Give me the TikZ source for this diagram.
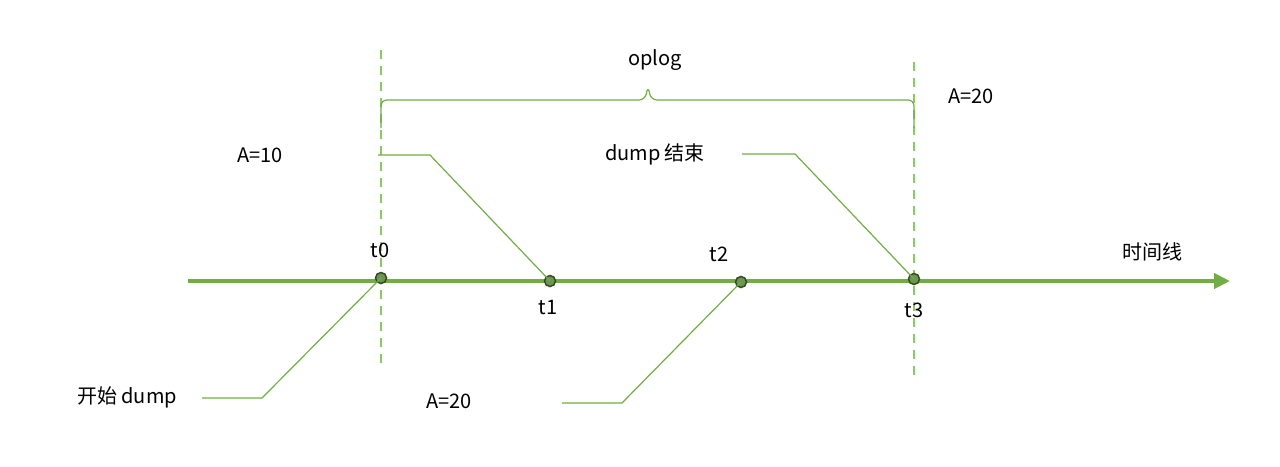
\documentclass[tikz,border=0pt]{standalone}
\usepackage{fontspec}
\setmainfont{Noto Sans CJK SC}
\usetikzlibrary{arrows.meta}
\definecolor{gline}{RGB}{112,173,71}
\definecolor{lgreen}{RGB}{140,200,100}
\definecolor{dgreen}{RGB}{84,130,53}
\begin{document}
\begin{tikzpicture}[x=1pt,y=-1pt,
  lbl/.style={font=\fontsize{20}{24}\selectfont,text=black,inner sep=0},
  dot/.style={circle,fill=dgreen!85,draw=dgreen!60!black,line width=1.5pt,minimum size=11pt,inner sep=0},
  call/.style={gline,line width=1.2pt},
  vdash/.style={lgreen,line width=2pt,dash pattern=on 9pt off 7pt}]
\useasboundingbox (0,0) rectangle (1280,466);
\coordinate (s) at (188,281);
\coordinate (e) at (1230,281);
\draw[gline,line width=4.5pt,-{Triangle[length=16pt,width=15pt]}] (s) -- (e);
\draw[vdash] (381,50) -- (381,368);
\draw[vdash] (914,62) -- (914,378);
\draw[call,rounded corners=6pt] (381,128) -- (381,100) -- (645,100) -- (648,86) -- (651,100) -- (914,100) -- (914,128);
\node[dot] (t0) at (381,278) {};
\node[dot] (t1) at (550,281) {};
\node[dot] (t2) at (741,282) {};
\node[dot] (t3) at (914,279) {};
\coordinate (c1) at (378,155);
\coordinate (c2) at (742,154);
\coordinate (c3) at (202,398);
\coordinate (c4) at (562,403);
\draw[call] (c1) -- (430,155) -- (t1.center);
\draw[call] (c2) -- (795,154) -- (t3.center);
\draw[call] (c3) -- (262,398) -- (t0.center);
\draw[call] (c4) -- (622,403) -- (t2.center);
\node[lbl] (op) at (655,60) {oplog};
\node[lbl] (a20a) at (971,96) {A=20};
\node[lbl] (a10) at (260,155) {A=10};
\node[lbl] (de) at (655,154) {dump 结束};
\node[lbl] (l0) at (380,250) {t0};
\node[lbl] (l1) at (548,307) {t1};
\node[lbl] (l2) at (719,254) {t2};
\node[lbl] (l3) at (914,310) {t3};
\node[lbl] (tl) at (1152,252) {时间线};
\node[lbl] (sd) at (127,397) {开始 dump};
\node[lbl] (a20b) at (449,401) {A=20};
\end{tikzpicture}
\end{document}
